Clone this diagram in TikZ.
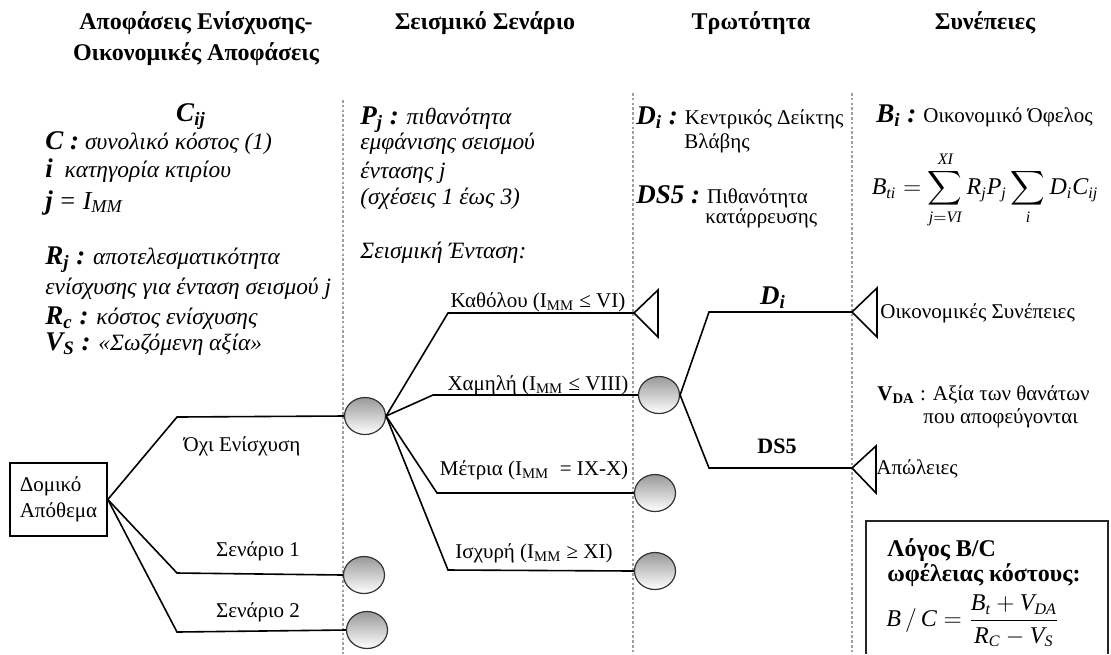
\documentclass[tikz,border=0pt]{standalone}
\usepackage{amsmath}
\usepackage{fontspec}
\setmainfont{Liberation Serif}
\usetikzlibrary{shapes.geometric}
\newcommand{\lbit}[1]{{\fontsize{13.5}{15}\selectfont\bfseries\itshape #1}}
\tikzset{
  txt/.style={inner sep=0pt, font=\fontsize{10.5}{12.6}\selectfont},
  itx/.style={inner sep=0pt, font=\fontsize{11.7}{13.5}\selectfont\itshape},
  head/.style={inner sep=0pt, font=\fontsize{12}{15.5}\selectfont\bfseries, align=center},
  branch/.style={line width=0.8pt},
  sep/.style={draw=gray!75, line width=1.3pt, dash pattern=on 1.3pt off 1.1pt},
  chance/.style={ellipse, draw=black!80, line width=0.6pt, top color=black!40, bottom color=white, minimum width=20.5pt, minimum height=18.5pt, inner sep=0pt},
  tri/.style={line width=0.8pt},
  stock/.style={draw, line width=0.8pt, minimum width=48.5pt, minimum height=36.5pt, inner sep=0pt, align=left, font=\fontsize{10.5}{13}\selectfont},
  eq/.style={inner sep=0pt, font=\fontsize{12}{14}\selectfont},
}
\begin{document}
\begin{tikzpicture}[x=0.5pt,y=-0.5pt]
\useasboundingbox (0,0) rectangle (1111,654);
% headers
\node[head] (h1) at (196,39) {Αποφάσεις Ενίσχυσης-\\Οικονομικές Αποφάσεις};
\node[head, anchor=base] (h2) at (485,29) {Σεισμικό Σενάριο};
\node[head, anchor=base] (h3) at (751,29) {Τρωτότητα};
\node[head, anchor=base] (h4) at (985,29) {Συνέπειες};
% separators
\draw[sep] (343,100) -- (343,654);
\draw[sep] (633,93) -- (633,654);
\draw[sep] (852,93) -- (852,654);
% column 1 text
\node[itx, anchor=base] (cij) at (191,121) {\lbit{C\textsubscript{ij}}};
\node[itx, anchor=base west] (l1) at (45,149) {\lbit{C :} συνολικό κόστος (1)};
\node[itx, anchor=base west] (l2) at (45,177) {\lbit{i}\ \ κατηγορία κτιρίου};
\node[itx, anchor=base west] (l3) at (45,209) {\lbit{j} {\fontsize{13}{15}\selectfont = I\textsubscript{MM}}};
\node[itx, anchor=base west] (l4) at (45,264) {\lbit{R\textsubscript{j} :} αποτελεσματικότητα};
\node[itx, anchor=base west] (l5) at (45,294) {ενίσχυσης για ένταση σεισμού j};
\node[itx, anchor=base west] (l6) at (45,324) {\lbit{R\textsubscript{c} :} κόστος ενίσχυσης};
\node[itx, anchor=base west] (l7) at (45,350) {\lbit{V\textsubscript{S} :} «Σωζόμενη αξία»};
% column 2 text
\node[itx, anchor=base west] (p1) at (360,124) {\lbit{P\textsubscript{j} :} πιθανότητα};
\node[itx, anchor=base west] (p2) at (360,149) {εμφάνισης σεισμού};
\node[itx, anchor=base west] (p3) at (360,178) {έντασης j};
\node[itx, anchor=base west] (p4) at (360,204) {(σχέσεις 1 έως 3)};
\node[itx, anchor=base west] (p5) at (360,258) {Σεισμική Ένταση:};
% column 3 text
\node[txt, anchor=base west] (v1) at (636,124) {\lbit{D\textsubscript{i} :} Κεντρικός Δείκτης};
\node[txt, anchor=base] (v2) at (717,148) {Βλάβης};
\node[txt, anchor=base west] (v3) at (636,203) {\lbit{DS5 :} Πιθανότητα};
\node[txt, anchor=base west] (v4) at (705,223) {κατάρρευσης};
% column 4 text
\node[txt, anchor=base west] (s1) at (876,122) {\lbit{B\textsubscript{i} :} Οικονομικό Όφελος};
\node[eq] (s2) at (985,190)
  {$\displaystyle \mathit{B}_{\mathit{ti}} = \sum_{\mathit{j}=\mathit{VI}}^{\mathit{XI}} \mathit{R}_{\mathit{j}}\mathit{P}_{\mathit{j}} \sum_{\mathit{i}} \mathit{D}_{\mathit{i}}\mathit{C}_{\mathit{ij}}$};
% tree: decision
\node[stock] (stock) at (58.5,499.5) {Δομικό\\Απόθεμα};
\coordinate (b1) at (177,417);
\coordinate (b2) at (177,573);
\coordinate (b3) at (177,632);
\node[chance] (c1) at (365,416) {};
\node[chance] (c2) at (364,575) {};
\node[chance] (c3) at (367,630) {};
\draw[branch] (stock.east) -- (b1) -- (c1.west);
\draw[branch] (stock.east) -- (b2) -- (c2.west);
\draw[branch] (stock.east) -- (b3) -- (c3.west);
\node[txt, anchor=base] (n1) at (242,451) {Όχι Ενίσχυση};
\node[txt, anchor=base] (n2) at (258,556) {Σενάριο 1};
\node[txt, anchor=base] (n3) at (258,617) {Σενάριο 2};
% seismic scenario fan
\coordinate (k1) at (448,313);
\coordinate (k2) at (433,395);
\coordinate (k3) at (437,493);
\coordinate (k4) at (448,570);
\coordinate (t1) at (634,313);
\node[chance] (c4) at (659,395) {};
\node[chance] (c5) at (655,493) {};
\node[chance] (c6) at (655,571) {};
\draw[branch] (c1.east) -- (k1) -- (t1);
\draw[branch] (c1.east) -- (k2) -- (c4.west);
\draw[branch] (c1.east) -- (k3) -- (c5.west);
\draw[branch] (c1.east) -- (k4) -- (c6.west);
\draw[tri] (t1) -- (658,290) -- (658,337) -- cycle;
\node[txt, anchor=base] (m1) at (538,307) {Καθόλου (I\textsubscript{MM} ≤ VI)};
\node[txt, anchor=base] (m2) at (538,390) {Χαμηλή (I\textsubscript{MM} ≤ VIII)};
\node[txt, anchor=base] (m3) at (534,475) {Μέτρια (I\textsubscript{MM}\ \ = IX-X)};
\node[txt, anchor=base] (m4) at (534,558) {Ισχυρή (I\textsubscript{MM} ≥ XI)};
% vulnerability
\coordinate (d1) at (709,312);
\coordinate (d2) at (709,468);
\coordinate (t2) at (852,312);
\coordinate (t3) at (852,468);
\draw[branch] (c4.east) -- (d1) -- (t2);
\draw[branch] (c4.east) -- (d2) -- (t3);
\draw[tri] (t2) -- (877,288) -- (877,337) -- cycle;
\draw[tri] (t3) -- (876,446) -- (876,493) -- cycle;
\node[inner sep=0pt, anchor=base] (dl) at (773,304) {\lbit{D\textsubscript{i}}};
\node[txt, anchor=base, font=\fontsize{11}{13}\selectfont\bfseries] (dsl) at (777,453) {DS5};
% consequences
\node[txt, anchor=base west] (r1) at (880,318) {Οικονομικές Συνέπειες};
\node[txt, anchor=base west] (r2) at (877,400) {\textbf{V\textsubscript{DA}} : Αξία των θανάτων};
\node[txt, anchor=base west] (r3) at (923,423) {που αποφεύγονται};
\node[txt, anchor=base west] (r4) at (876,474) {Απώλειες};
% B/C box
\draw[line width=0.8pt, draw=black!85] (866,654) -- (866,521) -- (1108,521) -- (1108,654);
\node[inner sep=0pt, anchor=base west, font=\fontsize{12}{14}\selectfont\bfseries] (bc1) at (887,556) {Λόγος B/C};
\node[inner sep=0pt, anchor=base west, font=\fontsize{12}{14}\selectfont\bfseries] (bc2) at (887,581) {ωφέλειας κόστους:};
\node[eq, anchor=west] (bc3) at (886,621)
  {$\mathit{B}\,/\,\mathit{C} = \dfrac{\mathit{B}_{\mathit{t}} + \mathit{V}_{\mathit{DA}}}{\mathit{R}_{\mathit{C}} - \mathit{V}_{\mathit{S}}}$};
\end{tikzpicture}
\end{document}
